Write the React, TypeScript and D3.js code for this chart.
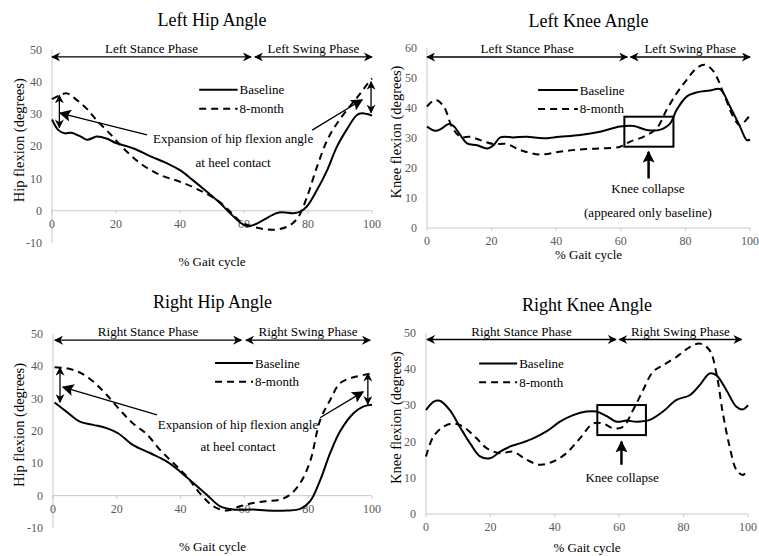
import * as d3 from "d3";

// % gait cycle axis
const gaitTicks = [0, 20, 40, 60, 80, 100];
const hipTicks = [-10, 0, 10, 20, 30, 40, 50];
const leftKneeTicks = [0, 10, 20, 30, 40, 50, 60];
const rightKneeTicks = [0, 10, 20, 30, 40, 50];

// [gait %, degrees]
const leftHipBaseline: [number, number][] = [
  [0, 28.3], [2, 25], [4, 24], [6, 24.2], [9, 23], [11, 22], [14, 23], [17, 22.4],
  [20, 21], [25.5, 19.3], [31, 16.8], [36, 14.7], [40, 12.6], [44, 9.5], [48.4, 5.9],
  [52.6, 2.3], [55.7, -0.8], [58.9, -3.7], [61, -4.8], [63, -4.4], [66, -2.9],
  [70, -0.8], [72, -0.5], [75.5, -0.8], [77.6, -0.3], [79.7, 1.4], [82.8, 6.4],
  [86, 12.6], [89, 19.8], [92, 25], [95.3, 29.7], [96.9, 30.2], [98.4, 30], [100, 29.5],
];
const leftHip8Month: [number, number][] = [
  [0, 34.6], [2.6, 35.9], [4.7, 36.4], [7.8, 34.3], [11, 31.5], [14, 28], [18, 24],
  [22.4, 19.3], [27.6, 14.7], [34, 11], [40, 9], [46, 6.4], [51.6, 3.3], [55.7, -0.3],
  [58.9, -3.4], [63, -5], [67, -5.8], [71, -5.7], [74.5, -4.4], [77, -1.9], [79.7, 4.3],
  [82.8, 13.6], [86, 21.9], [89, 27], [93, 32.3], [96, 35.9], [98.7, 39.5], [100, 41],
];
const leftKneeBaseline: [number, number][] = [
  [0, 33.8], [2.6, 32.4], [4.6, 33.2], [6.7, 34.7], [8.2, 34], [10.3, 31], [12.4, 28.2],
  [15.5, 27.6], [18.6, 26.5], [20.6, 27.6], [22.7, 30.2], [26.8, 30.2], [30.9, 30.4],
  [36, 29.9], [41, 30.4], [47.4, 31], [53.6, 32.1], [59.8, 33.8], [64, 34], [68, 32.7],
  [72, 32.7], [75.3, 34.9], [77.3, 39.4], [80.4, 43.8], [83.5, 45.2], [87.6, 45.8],
  [90.7, 46.3], [93.8, 40.5], [96.9, 33.8], [99, 29.3], [100, 29.5],
];
const leftKnee8Month: [number, number][] = [
  [0, 40.5], [2.6, 42.7], [5.2, 40.5], [7.7, 33.8], [10.3, 30.4], [13.4, 30.4],
  [16.5, 29.3], [20.6, 28], [24.7, 28], [28.9, 26], [35, 24.5], [41, 25.4], [47.4, 26.2],
  [53.6, 26.5], [59.8, 27.1], [62.9, 28.8], [67, 30.4], [71.1, 33.2], [74.2, 39.4],
  [77.3, 44.9], [80.4, 49.4], [83.5, 53.3], [86, 54.4], [88.7, 52.2], [91.8, 44.9],
  [94.8, 37.1], [96.9, 34.3], [100, 37.7],
];
const rightHipBaseline: [number, number][] = [
  [0.5, 28.8], [4.2, 26], [8.4, 22.9], [12.6, 21.9], [16.8, 20.9], [20.4, 19.3],
  [25, 15.7], [30.4, 13.2], [35.6, 10.6], [39.8, 7.5], [44, 3.9], [48.2, 0.3],
  [52.4, -3.3], [56.5, -4.3], [62.8, -4.3], [67, -4.6], [73.3, -4.6], [77.5, -4.1],
  [80.6, -1.7], [83.8, 4.9], [86.9, 13.2], [90, 19.9], [94.2, 25.5], [97.4, 27.6], [100, 28.1],
];
const rightHip8Month: [number, number][] = [
  [0.5, 39.7], [4.2, 39.4], [8.4, 38.1], [12.6, 35.3], [16.8, 31.2], [21, 26.5],
  [25, 22.4], [29.3, 19.1], [33.5, 14.2], [37.7, 10.1], [41.9, 6], [46, 0.8],
  [50.3, -3.3], [54.5, -4.6], [58.6, -3.3], [62.8, -2.3], [67, -1.7], [71.2, -1.2],
  [74.3, 0.3], [77.5, 3.9], [80.6, 10.6], [83.8, 23.5], [86.9, 29.6], [90, 34.8],
  [94.2, 36.6], [99.5, 37.7],
];
const rightKneeBaseline: [number, number][] = [
  [0, 28.7], [2.3, 31], [4.3, 31.3], [7.4, 28.7], [10.5, 24.1], [13.7, 19.5],
  [16.8, 15.9], [19.9, 15.4], [23, 17.2], [26, 18.6], [29.2, 19.5], [33.3, 20.9],
  [37.4, 22.8], [41.6, 25.5], [45.7, 27.3], [49.8, 28.3], [52.9, 28.3], [56, 27.1],
  [59.2, 25.5], [62.3, 25.8], [65.4, 25.5], [69.5, 26], [73.6, 28.3], [77.8, 31.5],
  [81.9, 32.8], [85, 35.6], [88.1, 38.8], [90.2, 38.3], [93.3, 34.2], [96.4, 29.6],
  [98.4, 28.9], [100, 30.1],
];
const rightKnee8Month: [number, number][] = [
  [0, 15.9], [2.3, 21.4], [5.4, 24.1], [8.5, 25], [11.6, 24.1], [15.7, 20.9],
  [18.8, 18.2], [23, 16.8], [27.1, 17.2], [31.2, 15], [35.4, 13.6], [39.5, 14.5],
  [43.6, 16.8], [47.8, 20.9], [51.9, 25], [55, 25], [58.1, 23.7], [61.2, 24.1],
  [64.3, 28.7], [67.4, 34.2], [70.5, 39.3], [73.6, 41.1], [77.8, 43.4], [81.9, 46.1],
  [85, 47.1], [88.1, 45.2], [90.2, 38.8], [92.2, 27.8], [94.3, 18.6], [96.4, 12.2],
  [98.4, 10.8], [100, 12.2],
];

const FONT = "'Liberation Serif', 'Times New Roman', serif";
const AXIS = "#c9c9c9";
const TICK_TEXT = "#595959";

type Arrow = { from: [number, number]; to: [number, number]; both?: boolean };

type PanelCfg = {
  title: string;
  side: string;
  titleY: number;
  xRange: [number, number];
  yRange: [number, number];
  yDomain: [number, number];
  yTicks: number[];
  yLabel: string;
  yLabelX: number;
  xLabelY: number;
  phaseY: number;
  stance: [number, number];
  swing: [number, number];
  legend: { x0: number; x1: number; y1: number; y2: number };
  baseline: [number, number][];
  month8: [number, number][];
  arrows: Arrow[];
  notes: { x: number; y: number; text: string }[];
  box?: [number, number, number, number];
};

const panels: PanelCfg[] = [
  {
    title: "Left Hip Angle", side: "Left", titleY: 26,
    xRange: [52, 372], yRange: [243, 49.5], yDomain: [-10, 50], yTicks: hipTicks,
    yLabel: "Hip flexion (degrees)", yLabelX: 19, xLabelY: 266,
    phaseY: 47.7, stance: [0, 62.2], swing: [63.4, 100],
    legend: { x0: 46, x1: 58, y1: 37.5, y2: 31.6 },
    baseline: leftHipBaseline, month8: leftHip8Month,
    arrows: [
      { from: [29.7, 23.5], to: [2.5, 30.3] },
      { from: [81.3, 25], to: [96.9, 34.4] },
      { from: [2.3, 25.8], to: [2.3, 35.8], both: true },
      { from: [99.7, 30.4], to: [99.7, 40], both: true },
    ],
    notes: [
      { x: 56.6, y: 22.3, text: "Expansion of hip flexion angle" },
      { x: 56.6, y: 14.9, text: "at heel contact" },
    ],
  },
  {
    title: "Left Knee Angle", side: "Left", titleY: 27,
    xRange: [427, 750], yRange: [228, 48], yDomain: [0, 60], yTicks: leftKneeTicks,
    yLabel: "Knee flexion (degrees)", yLabelX: 396, xLabelY: 259,
    phaseY: 57, stance: [0, 62], swing: [63, 100],
    legend: { x0: 34.4, x1: 46.7, y1: 46, y2: 39.7 },
    baseline: leftKneeBaseline, month8: leftKnee8Month,
    arrows: [{ from: [68.6, 16.5], to: [68.6, 25.4] }],
    notes: [
      { x: 68.4, y: 13.3, text: "Knee collapse" },
      { x: 68.4, y: 5.3, text: "(appeared only baseline)" },
    ],
    box: [61.1, 76.3, 27.1, 37.1],
  },
  {
    title: "Right Hip Angle", side: "Right", titleY: 308,
    xRange: [53, 372], yRange: [528, 334], yDomain: [-10, 50], yTicks: hipTicks,
    yLabel: "Hip flexion (degrees)", yLabelX: 19, xLabelY: 551,
    phaseY: 48.1, stance: [0.6, 59], swing: [60.5, 99.4],
    legend: { x0: 50.8, x1: 62.7, y1: 41, y2: 35.2 },
    baseline: rightHipBaseline, month8: rightHip8Month,
    arrows: [
      { from: [32.6, 25], to: [3.1, 33.6] },
      { from: [83.7, 24.1], to: [97.2, 32.1] },
      { from: [2.2, 28.9], to: [2.2, 39.6], both: true },
      { from: [98.7, 28.3], to: [98.7, 37.8], both: true },
    ],
    notes: [
      { x: 58, y: 21.9, text: "Expansion of hip flexion angle" },
      { x: 58, y: 15.1, text: "at heel contact" },
    ],
  },
  {
    title: "Right Knee Angle", side: "Right", titleY: 311,
    xRange: [426, 748], yRange: [514, 333], yDomain: [0, 50], yTicks: rightKneeTicks,
    yLabel: "Knee flexion (degrees)", yLabelX: 396, xLabelY: 552,
    phaseY: 48.2, stance: [0.3, 59], swing: [60, 98],
    legend: { x0: 16.5, x1: 28.3, y1: 41.6, y2: 36.4 },
    baseline: rightKneeBaseline, month8: rightKnee8Month,
    arrows: [{ from: [60.7, 13.6], to: [60.7, 20] }],
    notes: [{ x: 60.9, y: 10.2, text: "Knee collapse" }],
    box: [53.2, 68.3, 21.8, 30.1],
  },
];

function Panel({ cfg }: { cfg: PanelCfg }) {
  const x = d3.scaleLinear().domain([0, 100]).range(cfg.xRange);
  const y = d3.scaleLinear().domain(cfg.yDomain).range(cfg.yRange);
  const line = d3
    .line<[number, number]>()
    .x((d) => x(d[0]))
    .y((d) => y(d[1]))
    .curve(d3.curveCatmullRom.alpha(0.5));
  const y0 = y(Math.max(0, cfg.yDomain[0]));
  const [xa, xb] = cfg.xRange;
  const pY = y(cfg.phaseY);
  const lg = cfg.legend;
  return (
    <g fontFamily={FONT}>
      <text x={(xa + xb) / 2} y={cfg.titleY} textAnchor="middle" fontSize={18}>
        {cfg.title}
      </text>
      {/* axes */}
      <line x1={xa} x2={xa} y1={cfg.yRange[1]} y2={cfg.yRange[0]} stroke={AXIS} />
      <line x1={xa} x2={xb} y1={y0} y2={y0} stroke={AXIS} />
      {gaitTicks.map((t) => (
        <g key={"x" + t}>
          <line x1={x(t)} x2={x(t)} y1={y0} y2={y0 + 3} stroke={AXIS} />
          <text x={x(t)} y={y0 + 17} textAnchor="middle" fontSize={12} fill={TICK_TEXT}>
            {t}
          </text>
        </g>
      ))}
      {cfg.yTicks.map((t) => (
        <text key={"y" + t} x={xa - 10} y={y(t) + 4} textAnchor="end" fontSize={12} fill={TICK_TEXT}>
          {t}
        </text>
      ))}
      <text
        transform={`translate(${cfg.yLabelX},${(cfg.yRange[0] + cfg.yRange[1]) / 2 - 6}) rotate(-90)`}
        textAnchor="middle"
        dy="0.35em"
        fontSize={14.5}
      >
        {cfg.yLabel}
      </text>
      <text x={(xa + xb) / 2} y={cfg.xLabelY} textAnchor="middle" fontSize={13}>
        % Gait cycle
      </text>
      {/* phases */}
      {[cfg.stance, cfg.swing].map((p, i) => (
        <g key={"p" + i}>
          <line
            x1={x(p[0])} x2={x(p[1])} y1={pY} y2={pY}
            stroke="#000" strokeWidth={1.3}
            markerStart="url(#head)" markerEnd="url(#head)"
          />
          <text x={(x(p[0]) + x(p[1])) / 2} y={pY - 4} textAnchor="middle" fontSize={13}>
            {cfg.side} {i === 0 ? "Stance" : "Swing"} Phase
          </text>
        </g>
      ))}
      {/* series */}
      <path d={line(cfg.baseline) || ""} fill="none" stroke="#000" strokeWidth={2} />
      <path d={line(cfg.month8) || ""} fill="none" stroke="#000" strokeWidth={2} strokeDasharray="7,5" />
      {/* legend */}
      <line x1={x(lg.x0)} x2={x(lg.x1)} y1={y(lg.y1)} y2={y(lg.y1)} stroke="#000" strokeWidth={2} />
      <text x={x(lg.x1) + 2} y={y(lg.y1) + 4.5} fontSize={13}>Baseline</text>
      <line x1={x(lg.x0)} x2={x(lg.x1)} y1={y(lg.y2)} y2={y(lg.y2)} stroke="#000" strokeWidth={2} strokeDasharray="7,5" />
      <text x={x(lg.x1) + 2} y={y(lg.y2) + 4.5} fontSize={13}>8-month</text>
      {/* annotations */}
      {cfg.box && (
        <rect
          x={x(cfg.box[0])} y={y(cfg.box[3])}
          width={x(cfg.box[1]) - x(cfg.box[0])} height={y(cfg.box[2]) - y(cfg.box[3])}
          fill="none" stroke="#000" strokeWidth={2}
        />
      )}
      {cfg.arrows.map((a, i) => (
        <line
          key={"a" + i}
          x1={x(a.from[0])} y1={y(a.from[1])} x2={x(a.to[0])} y2={y(a.to[1])}
          stroke="#000" strokeWidth={cfg.box ? 2.5 : 1.3}
          markerStart={a.both ? "url(#head)" : undefined}
          markerEnd={a.both ? "url(#head)" : "url(#bighead)"}
        />
      ))}
      {cfg.notes.map((n, i) => (
        <text key={"n" + i} x={x(n.x)} y={y(n.y)} dy="0.35em" textAnchor="middle" fontSize={13}>
          {n.text}
        </text>
      ))}
    </g>
  );
}

export default function App() {
  return (
    <svg width={759} height={556} style={{ position: "absolute", left: 0, top: 0, background: "#fff" }}>
      <defs>
        <marker id="head" viewBox="0 0 10 10" refX="9" refY="5" markerWidth="9" markerHeight="9"
          markerUnits="userSpaceOnUse" orient="auto-start-reverse">
          <path d="M0,0 L10,5 L0,10 L3,5 Z" fill="#000" />
        </marker>
        <marker id="bighead" viewBox="0 0 10 10" refX="9" refY="5" markerWidth="12" markerHeight="12"
          markerUnits="userSpaceOnUse" orient="auto-start-reverse">
          <path d="M0,0 L10,5 L0,10 L2,5 Z" fill="#000" />
        </marker>
      </defs>
      <rect width={759} height={556} fill="#fff" />
      {panels.map((p) => (
        <Panel key={p.title} cfg={p} />
      ))}
    </svg>
  );
}
